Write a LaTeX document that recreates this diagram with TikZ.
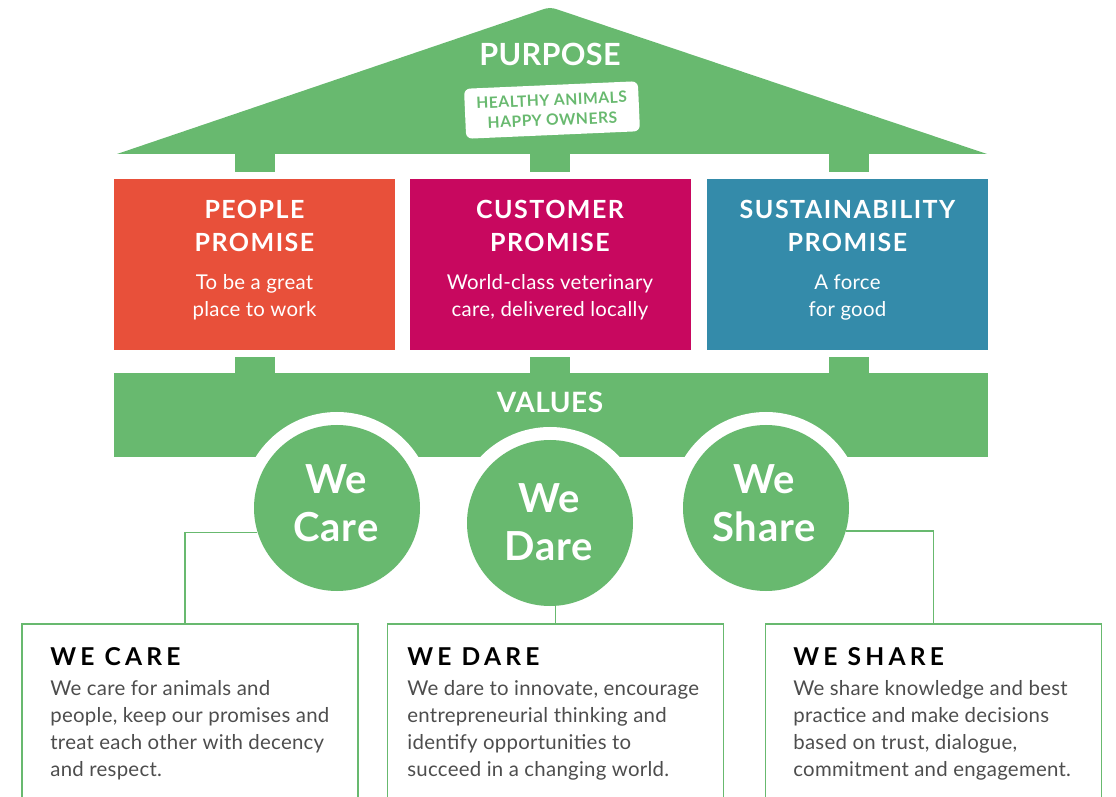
\documentclass[tikz,border=0pt]{standalone}
\usepackage{fontspec}
\setmainfont{Lato}
\usetikzlibrary{positioning}

\definecolor{housegreen}{HTML}{68B96F}
\definecolor{peoplered}{HTML}{E8503A}
\definecolor{customerpink}{HTML}{C8085F}
\definecolor{planetblue}{HTML}{348BAA}
\definecolor{copygray}{HTML}{4D4D4D}

\tikzset{
	headword/.style={text=white, inner sep=0pt, font=\fontsize{15.3}{18}\selectfont\bfseries\addfontfeature{LetterSpace=1}},
	motto/.style={fill=white, rounded corners=3pt, text=housegreen, align=center, inner sep=0pt,
		minimum width=87pt, minimum height=25pt, font=\fontsize{7.8}{10}\selectfont\bfseries\addfontfeature{LetterSpace=3.5}},
	promise/.style={rectangle, minimum width=140.5pt, minimum height=85.5pt, inner sep=0pt},
	promisetitle/.style={text=white, align=center, inner sep=0pt, font=\fontsize{12.5}{16.5}\selectfont\bfseries\addfontfeature{LetterSpace=6}},
	promisetext/.style={text=white, align=center, inner sep=0pt, font=\fontsize{10.2}{13.5}\selectfont\addfontfeature{LetterSpace=1.3}},
	valuecircle/.style={circle, fill=housegreen, inner sep=0pt, minimum size=83pt},
	valueword/.style={text=white, align=center, inner sep=0pt, font=\fontsize{20}{24}\selectfont\bfseries\addfontfeature{LetterSpace=2}},
	valuebox/.style={rectangle, draw=housegreen, line width=0.75pt, minimum width=168pt, minimum height=100pt},
	valuetitle/.style={inner sep=0pt, font=\fontsize{12.3}{14}\selectfont\bfseries\addfontfeature{LetterSpace=17}},
	valuetext/.style={text=copygray, align=left, inner sep=0pt, font=\fontsize{10.2}{13.5}\selectfont\addfontfeature{LetterSpace=1.3}},
	link/.style={draw=housegreen, line width=0.75pt}
}

\begin{document}
\begin{tikzpicture}[x=0.5pt, y=-0.5pt]
	\clip (0,0) rectangle (1116,797);

	%roof with the purpose
	\fill[housegreen] (117,154) [rounded corners=3pt] -- (550,7) [sharp corners] -- (987,154) -- cycle;
	\node[headword] (purpose) at (550,54) {PURPOSE};
	\node[motto, rotate=2.5] (motto) at (552,110) {HEALTHY ANIMALS\\HAPPY OWNERS};

	%tabs under the roof and on top of the values bar
	\foreach \x in {255, 550, 849}{
		\fill[housegreen] (\x-20,152) rectangle (\x+20,172);
		\fill[housegreen] (\x-20,357) rectangle (\x+20,374);
	}

	%the three promises
	\node[promise, fill=peoplered] (people) at (254.5,264.5) {};
	\node[promise, fill=customerpink] (customer) at (550,264.5) {};
	\node[promise, fill=planetblue] (planet) at (847.5,264.5) {};

	\node[promisetitle] (peopletitle) at (254.5,226) {PEOPLE\\PROMISE};
	\node[promisetitle] (customertitle) at (550,226) {CUSTOMER\\PROMISE};
	\node[promisetitle] (planettitle) at (847.5,226) {SUSTAINABILITY\\PROMISE};

	\node[promisetext, below=11pt of peopletitle] (peopletext) {To be a great\\place to work};
	\node[promisetext, below=11pt of customertitle] (customertext) {World-class veterinary\\care, delivered locally};
	\node[promisetext, below=11pt of planettitle] (planettext) {A force\\for good};

	%values bar
	\fill[housegreen] (114,373) rectangle (988,457);
	\node[headword, font=\fontsize{14}{16}\selectfont\bfseries\addfontfeature{LetterSpace=2}] (values) at (550,402) {VALUES};

	\foreach \x/\y in {337/508, 550/523, 766/508}{
		\fill[white] (\x,\y) circle[radius=96];
	}
	\node[valuecircle] (care) at (337,508) {};
	\node[valuecircle] (dare) at (550,523) {};
	\node[valuecircle] (share) at (766,508) {};
	\node[valueword] (careword) at (336,503) {We\\Care};
	\node[valueword] (dareword) at (549,522) {We\\Dare};
	\node[valueword] (shareword) at (764,503) {We\\Share};

	%boxes at the bottom
	\node[valuebox] (carebox) at (190,724) {};
	\node[valuebox] (darebox) at (555.5,724) {};
	\node[valuebox] (sharebox) at (933.5,724) {};

	\draw[link] (care.197) -| ([xshift=-2.5pt]carebox.north);
	\draw[link] (darebox.north) -- (darebox.north |- dare.south);
	\draw[link] (share.-16) -| (sharebox.north);

	\node[valuetitle, anchor=base west] (caretitle) at (50,665) {WE CARE};
	\node[valuetitle, anchor=base west] (daretitle) at (407,665) {WE DARE};
	\node[valuetitle, anchor=base west] (sharetitle) at (793,665) {WE SHARE};

	\node[valuetext, anchor=north west] (caretext) at (50,680)
		{We care for animals and\\people, keep our promises and\\treat each other with decency\\and respect.};
	\node[valuetext, anchor=north west] (daretext) at (407,680)
		{We dare to innovate, encourage\\entrepreneurial thinking and\\identify opportunities to\\succeed in a changing world.};
	\node[valuetext, anchor=north west] (sharetext) at (793,680)
		{We share knowledge and best\\practice and make decisions\\based on trust, dialogue,\\commitment and engagement.};
\end{tikzpicture}
\end{document}
